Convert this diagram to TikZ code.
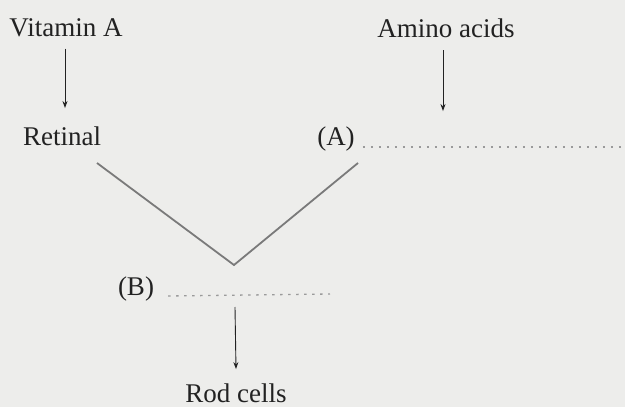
\documentclass[tikz,border=0pt]{standalone}
\usepackage{fontspec}
\setmainfont{Liberation Serif}
\usetikzlibrary{arrows.meta}
\definecolor{bgc}{HTML}{EDEDEB}
\definecolor{txt}{HTML}{222222}
\definecolor{vline}{HTML}{7A7A7A}
\definecolor{dotc}{HTML}{9A9A9A}
\tikzset{
  lbl/.style={anchor=base, inner sep=0pt, text=txt, font=\fontsize{27}{30}\selectfont},
  arr/.style={draw=txt, line width=0.9pt, -{Stealth[length=7pt,width=5pt]}},
  vee/.style={draw=vline, line width=1.8pt},
  dotl/.style={draw=dotc, line width=1.3pt, dash pattern=on 2.5pt off 5.5pt}
}
\begin{document}
\begin{tikzpicture}[x=1pt,y=-1pt]
\fill[bgc] (0,0) rectangle (625,407);
\useasboundingbox (0,0) rectangle (625,407);
\node[lbl] (vit) at (66,36) {Vitamin A};
\node[lbl] (ret) at (62,145) {Retinal};
\node[lbl] (amino) at (446,37) {Amino acids};
\node[lbl] (A) at (336,145) {(A)};
\node[lbl] (B) at (136,295) {(B)};
\node[lbl] (rod) at (236,402) {Rod cells};
\coordinate (vtip) at (234,265);
\coordinate (lstart) at (97,163);
\coordinate (rstart) at (358,163);
\coordinate (aend) at (625,147);
\coordinate (bend) at (330,294);
\draw[arr] ([xshift=-1pt,yshift=-12pt]vit.south) -- ([xshift=3pt,yshift=18pt]ret.north);
\draw[arr] ([xshift=-3pt,yshift=-13pt]amino.south) -- ([xshift=107pt,yshift=15pt]A.north);
\draw[vee] (lstart) -- (vtip) -- (rstart);
\draw[dotl] ([xshift=8pt,yshift=-2pt]A.base east) -- (aend);
\draw[dotl] ([xshift=14pt,yshift=-1pt]B.base east) -- (bend);
\draw[arr] ([xshift=1pt,yshift=-12pt]vtip |- B.base) -- ([xshift=0pt,yshift=14pt]rod.north);
\end{tikzpicture}
\end{document}
